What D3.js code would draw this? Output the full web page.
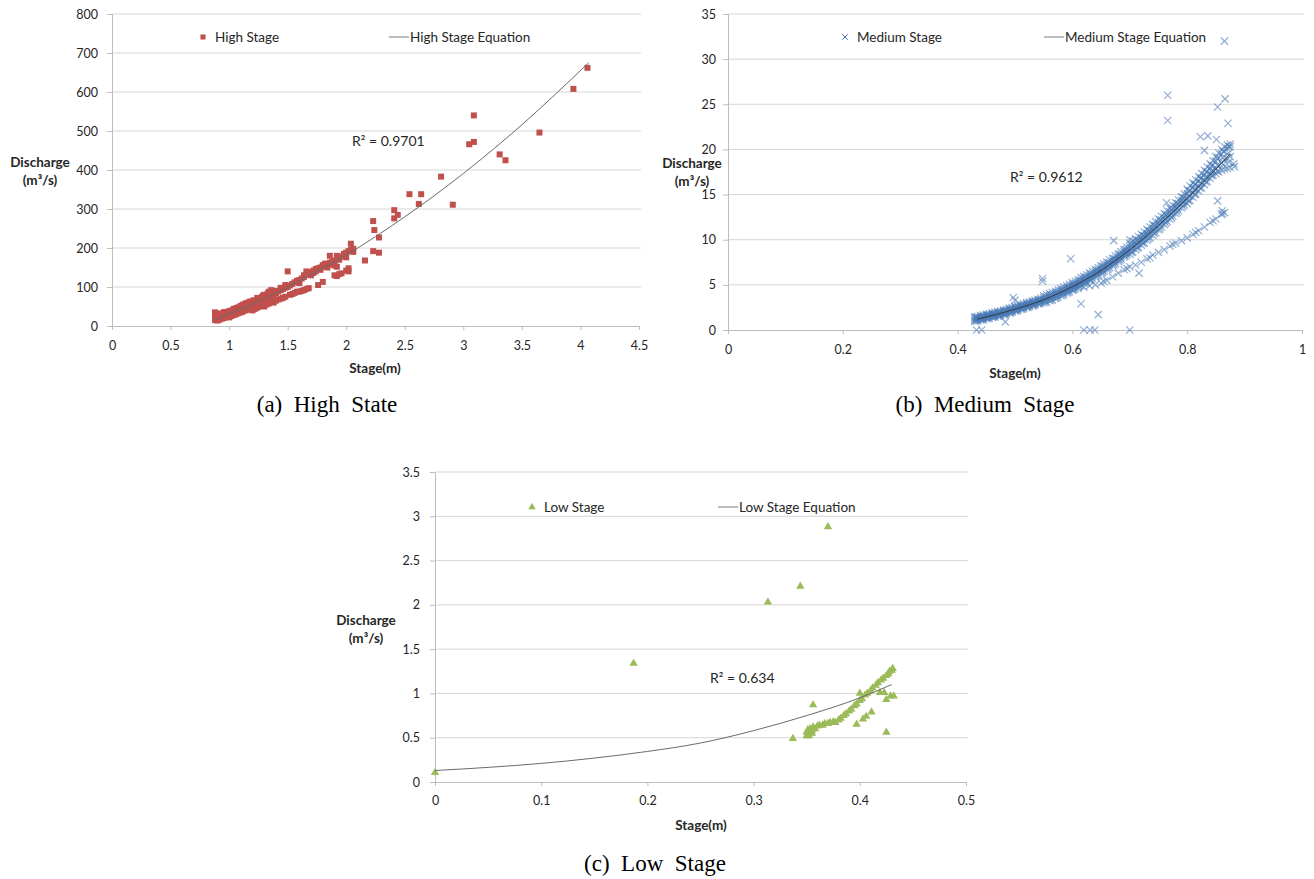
<!DOCTYPE html>
<html>
<head>
<meta charset="utf-8">
<script src="https://d3js.org/d3.v7.min.js"></script>
<style>
  body { margin: 0; background: #fff; }
  text { font-family: Lato, "Open Sans", sans-serif; fill: #262626; }
  .tick text { font-size: 12.5px; fill: #262626; }
  .domain, .tick line { stroke: #bdbdbd; }
  .grid line { stroke: #d6d6d6; }
  .legend text { font-size: 13.5px; }
  .r2 { font-size: 14px; }
  .title { font-size: 13.5px; font-weight: bold; }
  .caption { font-family: "Liberation Serif", serif; font-size: 23px; fill: #000; white-space: pre; }
</style>
</head>
<body>
<svg id="chart" width="1314" height="879"></svg>
<script>
// ---- tick labels ----
var highXTicks = [0, 0.5, 1, 1.5, 2, 2.5, 3, 3.5, 4, 4.5];
var highYTicks = [0, 100, 200, 300, 400, 500, 600, 700, 800];
var medXTicks = [0, 0.2, 0.4, 0.6, 0.8, 1];
var medYTicks = [0, 5, 10, 15, 20, 25, 30, 35];
var lowXTicks = [0, 0.1, 0.2, 0.3, 0.4, 0.5];
var lowYTicks = [0, 0.5, 1, 1.5, 2, 2.5, 3, 3.5];

// ---- high stage: rows of [stage, discharge, discharge, ...] ----
var highRows = [
  [0.88,15,20,28,35],[0.89,18,24,30],[0.90,14,22,30],[0.91,16,26],[0.92,17,26,32],[0.93,20,29],[0.94,19,28],[0.95,22,33],
  [0.96,21,30,36],[0.97,24,31],[0.98,23,33],[0.99,26,36],[1.00,22,30,38],[1.01,25,35],[1.02,26,34,40],[1.03,29,38],
  [1.04,28,37,44],[1.05,31,42],[1.06,30,40,46],[1.07,34,44],[1.08,33,42,48],[1.09,36,46],[1.10,35,45,52],[1.11,37,50],
  [1.12,38,48,55],[1.13,41,52],[1.14,40,51,58],[1.15,43,55],[1.16,42,54,60],[1.17,46,58],[1.18,45,57,63],[1.19,48,61],
  [1.20,40,50,60],[1.21,46,58,66],[1.22,44,55,64],[1.23,48,62],[1.24,47,58,72],[1.25,52,66],[1.26,50,62,70],[1.27,54,68],
  [1.28,52,66,74],[1.29,56,78],[1.30,50,60,70,80],[1.31,58,73],[1.32,55,68,75],[1.33,60,84],[1.34,58,72,88],[1.35,64,80],
  [1.36,62,78,92],[1.37,66,85],[1.38,60,80,88],[1.40,65,84,90],[1.42,68,88],[1.44,70,92,98],
  [1.46,72,95],[1.48,75,98,105],[1.50,100,140],[1.52,80,104],[1.54,82,108],[1.56,85,112],
  [1.58,88,116],[1.60,88,110,118],[1.62,90,122],[1.64,92,126,130],[1.66,95,132,140],[1.68,97,134],
  [1.70,130,138],[1.72,136,142],[1.74,140,146],[1.76,105,148],[1.78,144,150],[1.80,113,152,156],
  [1.82,155,160],[1.84,150,158],[1.86,162,180],[1.88,158,165],[1.90,130,155,168],[1.92,128,152,172,180],
  [1.94,133,170,175],[1.96,135,178],[1.98,180,185],[2.00,142,176,188],[2.02,140,148,192],[2.04,195,211],
  [2.06,190,198],[2.16,168],[2.23,192,269],[2.24,246],[2.28,188,227],[2.41,276,297],[2.44,285],
  [2.54,338],[2.62,313],[2.64,338],[2.81,383],[2.91,311],[3.05,466],[3.09,472,540],[3.31,440],
  [3.36,425],[3.65,496],[3.94,608],[4.06,662]
];
var highTrend = [[0.88,16],[1.2,56],[1.5,100],[2.0,182],[2.5,280],[3.0,391],[3.5,516],[4.07,675]];

// ---- medium stage ----
var medRows = [
  [0.430,0.95,1.1,1.3,1.45],[0.435,1.0,1.2,1.35,1.5],[0.440,1.1,1.25,1.4,1.6],[0.445,1.15,1.35,1.5,1.65],
  [0.450,1.25,1.4,1.6,1.75],[0.455,1.3,1.5,1.65,1.8],[0.460,1.4,1.55,1.75,1.9],[0.465,1.45,1.65,1.8,2.0],
  [0.470,1.55,1.7,1.9,2.05],[0.475,1.6,1.8,1.95,2.1],[0.480,1.7,1.85,2.05,2.2],[0.485,1.8,1.95,2.15,2.3],
  [0.490,1.9,2.05,2.25,2.4],[0.495,2.0,2.15,2.35,2.5],[0.500,2.1,2.25,2.45,2.6],[0.505,2.2,2.35,2.55,2.7],
  [0.510,2.3,2.45,2.65,2.8],[0.515,2.4,2.55,2.75,2.9],[0.520,2.5,2.65,2.85,3.0],[0.525,2.6,2.75,2.95,3.1],
  [0.530,2.7,2.85,3.05,3.2],[0.535,2.8,2.95,3.15,3.3],[0.540,2.9,3.05,3.25,3.4],[0.545,3.0,3.2,3.35,3.55],
  [0.550,3.0,3.25,3.55,3.8],[0.555,3.1,3.4,3.65,3.9],[0.560,3.25,3.5,3.8,4.05],[0.565,3.35,3.65,3.9,4.15],
  [0.570,3.5,3.75,4.05,4.3],[0.575,3.65,3.9,4.2,4.45],[0.580,3.8,4.05,4.35,4.6],[0.585,3.95,4.2,4.5,4.75],
  [0.590,4.1,4.35,4.65,4.9],[0.595,4.25,4.55,4.8,5.05],[0.600,4.45,4.7,5.0,5.25],[0.605,4.6,4.9,5.15,5.4],
  [0.610,4.8,5.05,5.35,5.6],[0.615,4.95,5.25,5.5,5.8],[0.620,5.15,5.4,5.7,5.95],[0.625,5.3,5.6,5.85,6.1],
  [0.630,5.5,5.75,6.05,6.3],[0.635,5.7,5.95,6.25,6.5],[0.640,5.9,6.15,6.45,6.7],[0.645,6.1,6.35,6.65,6.9],
  [0.650,6.3,6.55,6.85,7.1],[0.655,6.5,6.75,7.05,7.3],[0.660,6.7,6.95,7.25,7.5],[0.665,6.9,7.2,7.45,7.75],
  [0.670,7.15,7.4,7.7,7.95],[0.675,7.35,7.65,7.9,8.2],[0.680,7.6,7.85,8.15,8.4],[0.685,7.85,8.1,8.4,8.65],
  [0.690,8.1,8.35,8.65,8.9],[0.695,8.35,8.6,8.9,9.15],[0.700,8.4,8.8,9.2,9.6],[0.705,8.65,9.05,9.45,9.85],
  [0.710,8.9,9.3,9.7,10.1],[0.715,9.15,9.55,9.95,10.35],[0.720,9.4,9.8,10.2,10.6],[0.725,9.65,10.05,10.45,10.85],
  [0.730,9.95,10.35,10.75,11.15],[0.735,10.2,10.6,11.0,11.4],[0.740,10.5,10.9,11.3,11.7],[0.745,10.8,11.2,11.6,12.0],
  [0.750,11.1,11.5,11.9,12.3],[0.755,11.4,11.8,12.2,12.6],[0.760,11.7,12.1,12.5,12.9],[0.765,12.0,12.4,12.8,13.2],
  [0.770,12.3,12.7,13.1,13.5],[0.775,12.6,13.0,13.4,13.8],[0.780,12.9,13.3,13.7,14.1],[0.785,13.2,13.6,14.0,14.4],
  [0.790,13.55,13.95,14.35,14.75],[0.795,13.85,14.25,14.65,15.05],[0.800,14.0,14.5,15.1,15.6],[0.805,14.35,14.85,15.45,15.95],
  [0.810,14.7,15.2,15.8,16.3],[0.815,15.05,15.55,16.15,16.65],[0.820,15.4,15.9,16.5,17.0],[0.825,15.75,16.25,16.85,17.35],
  [0.830,16.1,16.6,17.2,17.7],[0.835,16.45,16.95,17.55,18.05],[0.840,16.8,17.3,17.9,18.4],[0.845,17.15,17.65,18.25,18.75],
  [0.850,17.3,17.9,18.7,19.2],[0.855,17.5,18.2,19.1,19.6],[0.860,17.7,18.5,19.5,20.0],[0.865,17.8,18.8,19.8,20.3],
  [0.870,17.9,19.0,20.1,20.5],[0.875,18.0,19.2,20.3,20.6]
];
// extra in-between readings of the same dense band
var medRowsMid = [
  [0.4325,1.05,1.25,1.4],[0.4425,1.15,1.35,1.5],[0.4525,1.3,1.5,1.65],[0.4625,1.45,1.65,1.8],[0.4725,1.55,1.75,1.95],
  [0.4825,1.7,1.95,2.1],[0.4925,1.9,2.1,2.3],[0.5025,2.1,2.3,2.5],[0.5125,2.3,2.5,2.7],[0.5225,2.5,2.7,2.9],
  [0.5325,2.7,2.9,3.1],[0.5425,2.9,3.15,3.35],[0.5525,3.1,3.35,3.65],[0.5625,3.3,3.6,3.9],[0.5725,3.55,3.85,4.15],
  [0.5825,3.85,4.15,4.45],[0.5925,4.15,4.45,4.75],[0.6025,4.5,4.8,5.1],[0.6125,4.85,5.15,5.45],[0.6225,5.2,5.5,5.8],
  [0.6325,5.55,5.85,6.2],[0.6425,5.95,6.25,6.6],[0.6525,6.35,6.65,7.0],[0.6625,6.75,7.1,7.45],[0.6725,7.2,7.55,7.9],
  [0.6825,7.7,8.0,8.35],[0.6925,8.2,8.5,8.85],[0.7025,8.6,9.0,9.4],[0.7125,9.1,9.5,9.9],[0.7225,9.6,10.0,10.45],
  [0.7325,10.1,10.55,11.0],[0.7425,10.7,11.1,11.55],[0.7525,11.2,11.7,12.15],[0.7625,11.85,12.3,12.75],[0.7725,12.45,12.9,13.35],
  [0.7825,13.05,13.5,14.0],[0.7925,13.7,14.15,14.65],[0.8025,14.3,14.8,15.4],[0.8125,15.0,15.5,16.1],[0.8225,15.7,16.2,16.8],
  [0.8325,16.4,16.9,17.5],[0.8425,17.1,17.6,18.2],[0.8525,17.6,18.3,19.0],[0.8625,18.3,19.1,19.8],[0.8725,18.6,19.6,20.3]
];
var medLower = [
  [0.600,4.4],[0.610,4.6],[0.620,4.75],[0.630,4.9],[0.640,5.0],[0.650,5.2],[0.660,5.5],[0.670,5.9],
  [0.680,6.3],[0.690,6.7],[0.700,7.0],[0.710,7.2],[0.720,7.5],[0.730,7.9],[0.740,8.3],[0.750,8.6],
  [0.760,8.9],[0.770,9.3],[0.780,9.6],[0.790,9.9],[0.800,10.2],[0.810,10.6],[0.820,11.0],[0.830,11.4],
  [0.840,11.9],[0.850,12.3],[0.860,12.8],[0.865,13.0],[0.655,5.4],[0.695,6.8],[0.735,8.0],[0.775,9.5],
  [0.815,10.8],[0.845,12.1]
];
var medOutliers = [
  [0.865,32.0],[0.766,26.0],[0.766,23.2],[0.866,25.6],[0.853,24.7],[0.871,22.9],[0.823,21.4],[0.836,21.5],
  [0.851,21.1],[0.830,19.9],[0.764,14.1],[0.853,14.3],[0.861,13.2],[0.861,12.9],[0.597,7.9],[0.548,5.7],
  [0.548,5.4],[0.615,2.9],[0.645,1.7],[0.620,0],[0.631,0],[0.639,0],[0.700,0],[0.433,0],[0.442,0],
  [0.483,0.9],[0.497,3.6],[0.500,3.3],[0.672,9.9],[0.700,10.0],[0.716,6.3],[0.881,18.4],[0.882,18.1]
];
var medTrend = [[0.435,1.2],[0.5,2.3],[0.55,3.35],[0.6,4.8],[0.65,6.6],[0.7,8.9],[0.75,11.6],[0.8,14.6],[0.85,17.8],[0.875,19.5]];

// ---- low stage ----
var lowPoints = [
  [0,0.105],[0.187,1.34],[0.3135,2.03],[0.344,2.21],[0.370,2.88],[0.337,0.49],[0.356,0.87],[0.397,0.65],
  [0.411,0.79],[0.403,0.71],[0.406,0.74],[0.425,0.56],[0.425,0.93],[0.429,0.97],[0.432,0.97],[0.419,1.01],
  [0.423,1.01],[0.400,1.0],[0.350,0.52],[0.350,0.56],[0.351,0.59],[0.352,0.54],[0.353,0.6],[0.355,0.58],
  [0.356,0.62],[0.358,0.6],[0.360,0.63],[0.362,0.64],[0.365,0.64],[0.367,0.66],[0.370,0.66],[0.372,0.67],
  [0.375,0.68],[0.377,0.67],[0.380,0.70],[0.382,0.72],[0.385,0.75],[0.387,0.77],[0.390,0.80],[0.392,0.82],
  [0.395,0.86],[0.397,0.88],[0.400,0.92],[0.402,0.94],[0.405,0.98],[0.407,1.0],[0.410,1.03],[0.412,1.06],
  [0.415,1.09],[0.417,1.12],[0.420,1.15],[0.422,1.17],[0.425,1.20],[0.427,1.22],[0.430,1.26],[0.431,1.28],
  [0.428,1.25],[0.355,0.55],[0.352,0.52]
];
var lowTrend = [[0,0.13],[0.05,0.165],[0.1,0.21],[0.15,0.27],[0.2,0.345],[0.25,0.44],[0.3,0.58],[0.35,0.75],[0.4,0.95],[0.43,1.1]];

function flatten(rows) {
  var out = [];
  rows.forEach(function(r) {
    for (var i = 1; i < r.length; i++) out.push([r[0], r[i]]);
  });
  return out;
}

var svg = d3.select("#chart");

function drawPanel(p) {
  var x = d3.scaleLinear().domain([p.xTicks[0], p.xTicks[p.xTicks.length - 1]]).range([p.left, p.right]);
  var y = d3.scaleLinear().domain([p.yTicks[0], p.yTicks[p.yTicks.length - 1]]).range([p.bottom, p.top]);
  var g = svg.append("g");

  g.append("g").attr("class", "grid")
    .selectAll("line").data(p.yTicks.slice(1)).join("line")
    .attr("x1", p.left).attr("x2", p.right + 2)
    .attr("y1", function(d) { return y(d); }).attr("y2", function(d) { return y(d); });

  g.append("g").attr("transform", "translate(" + p.left + ",0)")
    .call(d3.axisLeft(y).tickValues(p.yTicks).tickSize(5).tickSizeOuter(0).tickPadding(p.yPad)
      .tickFormat(function(d) { return d; }));

  g.append("g").attr("transform", "translate(0," + p.bottom + ")")
    .call(d3.axisBottom(x).tickValues(p.xTicks).tickSize(4).tickSizeOuter(0).tickPadding(p.xPad)
      .tickFormat(function(d) { return d; }));

  // points
  var sym = d3.symbol().type(p.symbol).size(p.symSize);
  g.append("g").selectAll("path").data(p.points).join("path")
    .attr("transform", function(d) { return "translate(" + x(d[0]) + "," + y(d[1]) + ")"; })
    .attr("d", sym)
    .attr("fill", p.stroke ? "none" : p.color)
    .attr("stroke", p.stroke ? p.color : "none")
    .attr("stroke-width", 1.2)
    .attr("opacity", p.opacity || 1);

  // trend line
  var line = d3.line().x(function(d) { return x(d[0]); }).y(function(d) { return y(d[1]); })
    .curve(d3.curveMonotoneX);
  g.append("path").datum(p.trend).attr("d", line)
    .attr("fill", "none").attr("stroke", p.lineColor).attr("stroke-width", 1);

  // legend
  var lg = g.append("g").attr("class", "legend");
  lg.append("path").attr("d", d3.symbol().type(p.symbol).size(p.legSize)())
    .attr("transform", "translate(" + p.leg[0] + "," + p.leg[1] + ")")
    .attr("fill", p.stroke ? "none" : p.color).attr("stroke", p.stroke ? p.color : "none");
  lg.append("text").attr("x", p.leg[0] + 12).attr("y", p.leg[1]).attr("dy", "0.35em").text(p.names[0]);
  lg.append("line").attr("x1", p.leg[2]).attr("x2", p.leg[2] + 20)
    .attr("y1", p.leg[1]).attr("y2", p.leg[1]).attr("stroke", "#7a7a7a");
  lg.append("text").attr("x", p.leg[2] + 21).attr("y", p.leg[1]).attr("dy", "0.35em").text(p.names[1]);

  g.append("text").attr("class", "r2").attr("x", p.r2[0]).attr("y", p.r2[1]).attr("dy", "0.35em").text(p.r2[2]);

  // axis titles
  var yt = g.append("text").attr("class", "title").attr("text-anchor", "middle");
  yt.append("tspan").attr("x", p.yTitle[0]).attr("y", p.yTitle[1]).attr("dy", "0.35em").text("Discharge");
  yt.append("tspan").attr("x", p.yTitle[0]).attr("y", p.yTitle[1] + 18).attr("dy", "0.35em").text("(m³/s)");
  g.append("text").attr("class", "title").attr("text-anchor", "middle")
    .attr("x", p.xTitle[0]).attr("y", p.xTitle[1]).attr("dy", "0.35em").text("Stage(m)");

  g.append("text").attr("class", "caption").attr("xml:space", "preserve").attr("text-anchor", "middle")
    .attr("x", p.caption[0]).attr("y", p.caption[1]).attr("dy", "0.35em").text(p.caption[2]);

  g.selectAll(".domain, .tick line").attr("stroke", "#bdbdbd");
}

drawPanel({
  left: 112, right: 639, top: 14, bottom: 326, xPad: 11, yPad: 9,
  xTicks: highXTicks, yTicks: highYTicks,
  points: flatten(highRows), trend: highTrend, lineColor: "#6a6a6a",
  symbol: d3.symbolSquare, symSize: 36, legSize: 26, color: "#c0504d",
  names: ["High Stage", "High Stage Equation"], leg: [203, 37, 389],
  r2: [352, 141, "R² = 0.9701"], yTitle: [40, 162], xTitle: [375, 368],
  caption: [327, 404, "(a)  High  State"]
});

drawPanel({
  left: 728, right: 1302, top: 14, bottom: 330, xPad: 11, yPad: 7,
  xTicks: medXTicks, yTicks: medYTicks,
  points: flatten(medRows).concat(flatten(medRowsMid), medLower, medOutliers), trend: medTrend, lineColor: "#3a3a3a",
  symbol: d3.symbolX || d3.symbolCross, symSize: 36, legSize: 22, color: "#4678b5", stroke: true, opacity: 0.6,
  names: ["Medium Stage", "Medium Stage Equation"], leg: [845, 37, 1044],
  r2: [1010, 177, "R² = 0.9612"], yTitle: [692, 163], xTitle: [1015, 373],
  caption: [985, 404, "(b)  Medium  Stage"]
});

drawPanel({
  left: 435, right: 966, top: 472, bottom: 782, xPad: 10, yPad: 10,
  xTicks: lowXTicks, yTicks: lowYTicks,
  points: lowPoints, trend: lowTrend, lineColor: "#6a6a6a",
  symbol: d3.symbolTriangle, symSize: 30, legSize: 24, color: "#9bbb59",
  names: ["Low Stage", "Low Stage Equation"], leg: [532, 507, 718],
  r2: [710, 678, "R² = 0.634"], yTitle: [366, 620], xTitle: [701, 825],
  caption: [655, 863, "(c)  Low  Stage"]
});
</script>
</body>
</html>
